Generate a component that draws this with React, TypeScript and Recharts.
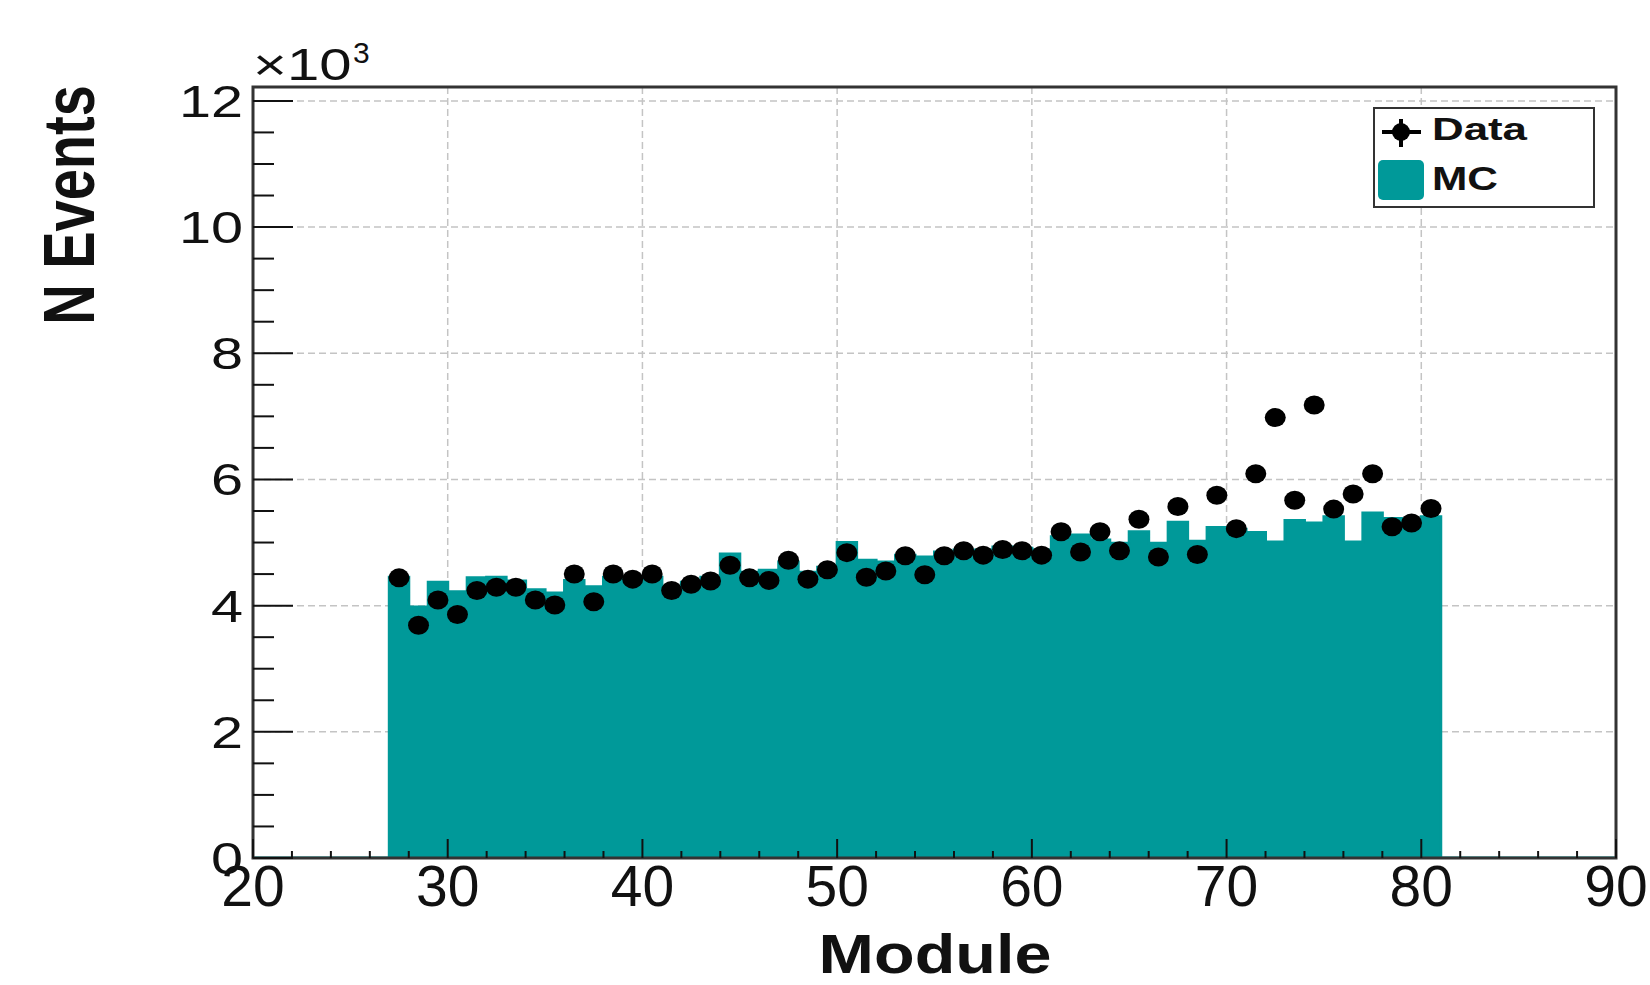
import React from 'react';
import {
  ComposedChart,
  Area,
  Scatter,
  XAxis,
  YAxis,
  CartesianGrid,
  Legend,
  ReferenceArea,
  Label,
} from 'recharts';

// histogram bins (low edge of each 1-wide module bin)
const moduleBins = [
  27, 28, 29, 30, 31, 32, 33, 34, 35, 36, 37, 38, 39, 40, 41, 42, 43, 44,
  45, 46, 47, 48, 49, 50, 51, 52, 53, 54, 55, 56, 57, 58, 59, 60, 61, 62,
  63, 64, 65, 66, 67, 68, 69, 70, 71, 72, 73, 74, 75, 76, 77, 78, 79, 80,
];

const mcCounts = [
  4450, 3980, 4370, 4220, 4440, 4450, 4390, 4250, 4200, 4400, 4300, 4450, 4430, 4450, 4300, 4370, 4450, 4820,
  4530, 4560, 4690, 4530, 4610, 5000, 4720, 4690, 4800, 4770, 4850, 4880, 4880, 4930, 4910, 4880, 5090, 5120,
  5040, 4990, 5170, 4990, 5320, 5020, 5240, 5210, 5160, 5010, 5350, 5310, 5410, 5010, 5470, 5380, 5360, 5410,
];

const dataCounts = [
  4440, 3690, 4090, 3860, 4240, 4290, 4290, 4090, 4010, 4500, 4060, 4500, 4420, 4500, 4240, 4340, 4390, 4640,
  4440, 4400, 4720, 4420, 4570, 4840, 4450, 4550, 4790, 4490, 4790, 4870, 4800, 4890, 4870, 4800, 5170, 4850,
  5170, 4870, 5370, 4770, 5570, 4810, 5750, 5220, 6090, 6980, 5670, 7180, 5530, 5770, 6090, 5250, 5310, 5540,
];

const xRange = [20, 90];
const yMax = 12220;
const binWidth = 1;

const xTicks = [20, 22, 24, 26, 28, 30, 32, 34, 36, 38, 40, 42, 44, 46, 48, 50, 52, 54, 56, 58, 60, 62, 64, 66, 68, 70, 72, 74, 76, 78, 80, 82, 84, 86, 88, 90];
const xMajorTicks = [20, 30, 40, 50, 60, 70, 80, 90];
const yTicks = [0, 500, 1000, 1500, 2000, 2500, 3000, 3500, 4000, 4500, 5000, 5500, 6000, 6500, 7000, 7500, 8000, 8500, 9000, 9500, 10000, 10500, 11000, 11500, 12000];
const yMajorTicks = [0, 2000, 4000, 6000, 8000, 10000, 12000];

const TEAL = '#009999';
const INK = '#111';
const FONT = '"Liberation Sans", Arial, Helvetica, sans-serif';

// step outline of the MC histogram, empty bins at zero
const mcSteps = [
  { x: xRange[0], mc: 0 },
  ...moduleBins.map((b, i) => ({ x: b, mc: mcCounts[i] })),
  { x: moduleBins[moduleBins.length - 1] + binWidth, mc: 0 },
  { x: xRange[1], mc: 0 },
];

const dataPoints = moduleBins.map((b, i) => ({ x: b + binWidth / 2, y: dataCounts[i] }));

const XTick = (props: any) => {
  const { x, y, payload } = props;
  const v = payload.value;
  const major = xMajorTicks.includes(v);
  return (
    <g>
      <line x1={x} x2={x} y1={y} y2={y - (major ? 19 : 7)} stroke={INK} strokeWidth={2} />
      {major && (
        <text x={x} y={y + 48} textAnchor="middle" fontSize={57} fontFamily={FONT} fill={INK}>
          {v}
        </text>
      )}
    </g>
  );
};

const YTick = (props: any) => {
  const { x, y, payload } = props;
  const v = payload.value;
  const major = yMajorTicks.includes(v);
  return (
    <g>
      <line x1={x} x2={x + (major ? 40 : 21)} y1={y} y2={y} stroke={INK} strokeWidth={2} />
      {major && (
        <text
          transform={`translate(${x - 10},${y + 16}) scale(1.28,1)`}
          textAnchor="end"
          fontSize={45}
          fontFamily={FONT}
          fill={INK}
        >
          {v / 1000}
        </text>
      )}
    </g>
  );
};

const YTitle = () => (
  <g>
    <text
      transform="translate(69,205) scale(1.3,1) rotate(-90)"
      textAnchor="middle"
      dominantBaseline="central"
      fontSize={56}
      fontWeight="bold"
      fontFamily={FONT}
      fill={INK}
    >
      N Events
    </text>
    <text transform="translate(253,80) scale(1.32,1)" fontSize={44} fontFamily={FONT} fill={INK}>
      ×10
    </text>
    <text x={353} y={63} fontSize={30} fontFamily={FONT} fill={INK}>
      3
    </text>
  </g>
);

const XTitle = () => (
  <text
    transform="translate(935,973) scale(1.21,1)"
    textAnchor="middle"
    fontSize={55}
    fontWeight="bold"
    fontFamily={FONT}
    fill={INK}
  >
    Module
  </text>
);

const LegendBox = () => (
  <svg width={222} height={101} style={{ display: 'block' }}>
    <rect x={1} y={1} width={220} height={99} fill="#fff" stroke="#333" strokeWidth={2} />
    <line x1={9} x2={48} y1={25} y2={25} stroke="#000" strokeWidth={4} />
    <line x1={28} x2={28} y1={12} y2={40} stroke="#000" strokeWidth={4} />
    <circle cx={28} cy={25} r={9} fill="#000" />
    <text x={59} y={33} fontSize={32} fontWeight="bold" fontFamily={FONT} fill={INK} textLength={95} lengthAdjust="spacingAndGlyphs">
      Data
    </text>
    <rect x={5} y={53} width={46} height={40} rx={5} fill={TEAL} />
    <text x={59} y={83} fontSize={33} fontWeight="bold" fontFamily={FONT} fill={INK} textLength={66} lengthAdjust="spacingAndGlyphs">
      MC
    </text>
  </svg>
);

export default function App() {
  return (
    <div style={{ width: 1650, height: 985, background: '#fff' }}>
      <style>{'body{margin:0}'}</style>
      <ComposedChart
        width={1650}
        height={985}
        data={mcSteps}
        margin={{ top: 87, right: 34, bottom: 0, left: 0 }}
      >
        <CartesianGrid
          stroke="#c4c4c4"
          strokeWidth={1.5}
          strokeDasharray="7 4"
          verticalValues={[30, 40, 50, 60, 70, 80]}
          horizontalValues={[2000, 4000, 6000, 8000, 10000, 12000]}
        />
        <Area
          type="stepAfter"
          dataKey="mc"
          name="MC"
          stroke={TEAL}
          strokeWidth={3}
          fill={TEAL}
          fillOpacity={1}
          isAnimationActive={false}
        />
        <Scatter
          data={dataPoints}
          dataKey="y"
          name="Data"
          fill="#000"
          isAnimationActive={false}
          shape={(p: any) => <ellipse cx={p.cx} cy={p.cy} rx={10.5} ry={9.5} fill="#000" />}
        />
        <ReferenceArea
          x1={xRange[0]}
          x2={xRange[1]}
          y1={0}
          y2={yMax}
          fill="none"
          stroke="#333"
          strokeWidth={3}
          ifOverflow="visible"
        />
        <XAxis
          dataKey="x"
          type="number"
          domain={xRange}
          allowDataOverflow
          ticks={xTicks}
          interval={0}
          tick={<XTick />}
          tickLine={false}
          axisLine={false}
          tickSize={0}
          tickMargin={0}
          height={127}
        >
          <Label content={<XTitle />} />
        </XAxis>
        <YAxis
          type="number"
          domain={[0, yMax]}
          allowDataOverflow
          ticks={yTicks}
          interval={0}
          tick={<YTick />}
          tickLine={false}
          axisLine={false}
          tickSize={0}
          tickMargin={0}
          width={253}
        >
          <Label content={<YTitle />} />
        </YAxis>
        <Legend
          layout="vertical"
          align="center"
          verticalAlign="middle"
          content={<LegendBox />}
          wrapperStyle={{ left: 1373, top: 107, width: 222, height: 101 }}
        />
      </ComposedChart>
    </div>
  );
}
